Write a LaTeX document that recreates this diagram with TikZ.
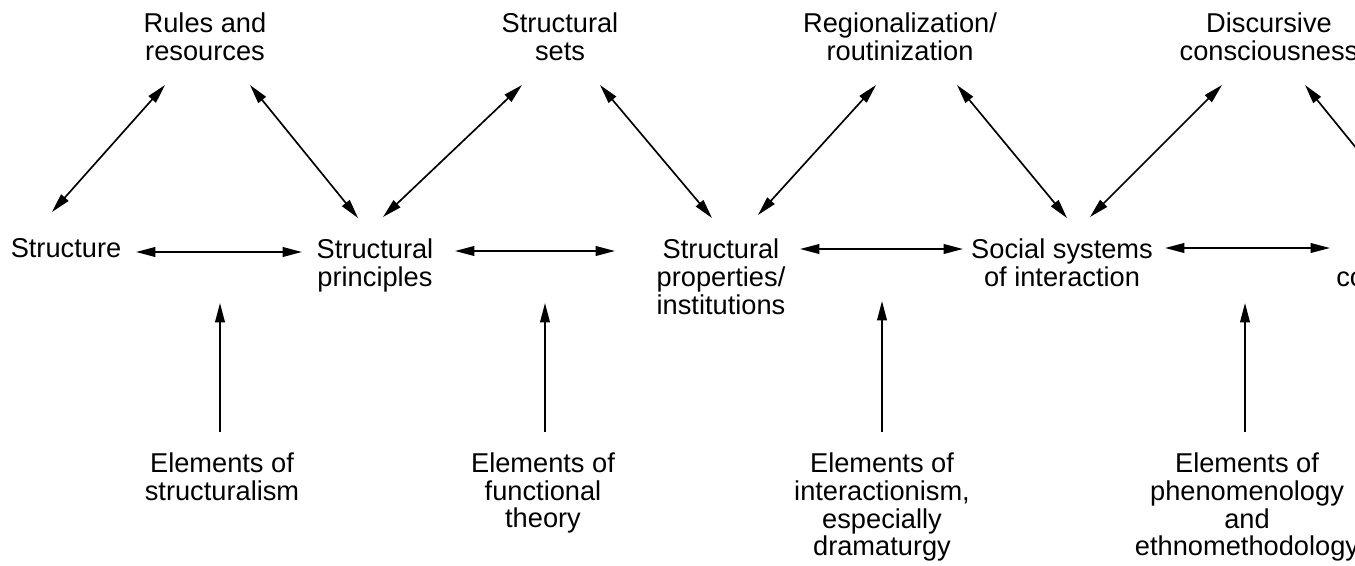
\documentclass[tikz,border=0pt]{standalone}
\usepackage{fontspec}
\setmainfont{Liberation Sans}
\usetikzlibrary{arrows.meta}
\begin{document}
\begin{tikzpicture}[x=0.02cm,y=-0.02cm,
  lbl/.style={align=center,inner sep=0pt,font=\fontsize{15.5}{15.9}\selectfont},
  tip/.tip={Triangle[length=11pt,width=5.5pt]},
  dbl/.style={{tip}-{tip},line width=0.95pt},
  uparr/.style={-{tip},line width=0.95pt}]
\useasboundingbox (0,0) rectangle (1355,565);
\clip (0,0) rectangle (1355,565);
% top row
\node[lbl] (rules) at (205,36.5) {Rules and\\resources};
\node[lbl] (sets) at (560,36.5) {Structural\\sets};
\node[lbl] (region) at (900,36.5) {Regionalization/\\routinization};
\node[lbl] (disc) at (1269,36.5) {Discursive\\consciousness};
% middle row
\node[lbl] (structure) at (66,248.5) {Structure};
\node[lbl] (principles) at (375,265) {Structural\\principles};
\node[lbl] (properties) at (721,277) {Structural\\properties/\\institutions};
\node[lbl] (social) at (1062,262.5) {Social systems\\of interaction};
\node[lbl,anchor=base west] (last) at (1336,286) {co};
% bottom row
\node[lbl] (bstruct) at (222,476.5) {Elements of\\structuralism};
\node[lbl] (bfunc) at (543,493) {Elements of\\functional\\theory};
\node[lbl] (binter) at (882,507) {Elements of\\interactionism,\\especially\\dramaturgy};
\node[lbl] (bphen) at (1247,507) {Elements of\\phenomenology\\and\\ethnomethodology};
% free ends
\coordinate (lastH) at (1330,248);
\coordinate (lastD) at (1413,218);
\coordinate (t1) at (220,303);
\coordinate (t2) at (545,303);
\coordinate (t3) at (882,301);
\coordinate (t4) at (1245,303);
% diagonal arrows
\draw[dbl] ([shift={(-14,-36.5)}]structure.center) -- ([shift={(-40,48.5)}]rules.center);
\draw[dbl] ([shift={(45,48.5)}]rules.center) -- ([shift={(-17,-47)}]principles.center);
\draw[dbl] ([shift={(8,-48)}]principles.center) -- ([shift={(-38,48.5)}]sets.center);
\draw[dbl] ([shift={(40,48.5)}]sets.center) -- ([shift={(-9,-59)}]properties.center);
\draw[dbl] ([shift={(37,-62)}]properties.center) -- ([shift={(-24,48.5)}]region.center);
\draw[dbl] ([shift={(57,48.5)}]region.center) -- ([shift={(5,-44.5)}]social.center);
\draw[dbl] ([shift={(28,-45.5)}]social.center) -- ([shift={(-47,48.5)}]disc.center);
\draw[dbl] ([shift={(36,48.5)}]disc.center) -- (lastD);
% horizontal arrows
\draw[dbl] ([shift={(70,3.5)}]structure.center) -- ([shift={(-73,-13)}]principles.center);
\draw[dbl] ([shift={(80,-14)}]principles.center) -- ([shift={(-106,-26)}]properties.center);
\draw[dbl] ([shift={(79,-28)}]properties.center) -- ([shift={(-99,-13.5)}]social.center);
\draw[dbl] ([shift={(103,-14.5)}]social.center) -- (lastH);
% vertical arrows
\draw[uparr] ([shift={(-2,-44.5)}]bstruct.center) -- (t1);
\draw[uparr] ([shift={(2,-61)}]bfunc.center) -- (t2);
\draw[uparr] ([shift={(0,-75)}]binter.center) -- (t3);
\draw[uparr] ([shift={(-2,-75)}]bphen.center) -- (t4);
\end{tikzpicture}
\end{document}
